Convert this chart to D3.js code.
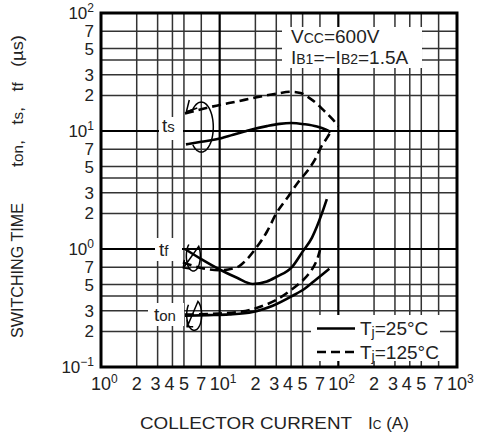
<!DOCTYPE html>
<html>
<head>
<meta charset="utf-8">
<script src="https://cdn.jsdelivr.net/npm/d3@7/dist/d3.min.js"></script>
<style>
  body { margin: 0; background: #fff; }
  text { font-family: "Liberation Sans", Arial, Helvetica, sans-serif; fill: #222; }
</style>
</head>
<body>
<svg id="chart" width="486" height="434"></svg>
<script>
// axis ticks
var xDecades = [1, 10, 100, 1000];
var xDecadeExp = ["0", "1", "2", "3"];
var yDecades = [0.1, 1, 10, 100];
var yDecadeExp = ["\u22121", "0", "1", "2"];
var gridSteps = [2, 3, 4, 5, 7];
var xMinorLabels = [2, 3, 4, 5, 7];
var yMinorLabels = [2, 3, 5, 7];

// ts  (storage time)
var ts25I  = [5.2, 7, 9.4, 13, 18, 25, 32, 40, 52, 66, 78, 86];
var ts25T  = [7.7, 8.1, 8.5, 9.3, 10.2, 11.0, 11.5, 11.7, 11.4, 10.9, 10.3, 9.8];
var ts125I = [5.1, 7, 9.4, 14, 20, 30, 40, 48, 56, 66, 76, 88, 100];
var ts125T = [14.1, 15.3, 16.4, 17.8, 19.2, 20.7, 21.5, 21.0, 19.3, 17.0, 14.8, 12.8, 11.0];
// tf  (fall time)
var tf25I  = [5.1, 7, 10, 14, 19, 25, 30, 41, 50, 60, 66, 72, 80];
var tf25T  = [1.0, 0.82, 0.67, 0.57, 0.505, 0.53, 0.58, 0.71, 0.95, 1.25, 1.55, 1.95, 2.65];
var tf125I = [4.9, 7, 10, 14, 17, 20, 25, 30, 38, 46, 55, 64, 72, 80, 86];
var tf125T = [0.77, 0.69, 0.66, 0.70, 0.82, 1.0, 1.4, 2.0, 2.8, 3.7, 4.6, 5.8, 7.4, 8.7, 9.8];
// ton (turn-on time)
var ton25I  = [5.1, 8, 12, 19, 28, 41, 52, 62, 72, 84];
var ton25T  = [0.272, 0.275, 0.279, 0.292, 0.33, 0.40, 0.46, 0.53, 0.60, 0.68];
var ton125I = [5.1, 10, 18, 25, 30, 40, 48, 56, 62, 67, 70];
var ton125T = [0.278, 0.284, 0.305, 0.34, 0.37, 0.45, 0.52, 0.61, 0.71, 0.84, 0.98];

var svg = d3.select("#chart");
var pLeft = 101, pRight = 457, pTop = 13, pBottom = 367;

var x = d3.scaleLog().domain([1, 1000]).range([pLeft, pRight]);
var y = d3.scaleLog().domain([0.1, 100]).range([pBottom, pTop]);

//grid lines
var g = svg.append("g");
var minorX = [], minorY = [];
for (var d = 0; d < 3; d++) {
    gridSteps.forEach(function (s) {
        minorX.push(s * xDecades[d]);
        minorY.push(s * yDecades[d]);
    });
}
g.selectAll(".vx").data(minorX).enter().append("line")
    .attr("x1", function (v) { return x(v); }).attr("x2", function (v) { return x(v); })
    .attr("y1", pTop).attr("y2", pBottom)
    .attr("stroke", "#333").attr("stroke-width", 1.5);
g.selectAll(".hy").data(minorY).enter().append("line")
    .attr("y1", function (v) { return y(v); }).attr("y2", function (v) { return y(v); })
    .attr("x1", pLeft).attr("x2", pRight)
    .attr("stroke", "#333").attr("stroke-width", 1.5);
g.selectAll(".vX").data(xDecades.slice(1, 3)).enter().append("line")
    .attr("x1", function (v) { return x(v); }).attr("x2", function (v) { return x(v); })
    .attr("y1", pTop).attr("y2", pBottom)
    .attr("stroke", "#000").attr("stroke-width", 2.2);
g.selectAll(".hY").data(yDecades.slice(1, 3)).enter().append("line")
    .attr("y1", function (v) { return y(v); }).attr("y2", function (v) { return y(v); })
    .attr("x1", pLeft).attr("x2", pRight)
    .attr("stroke", "#000").attr("stroke-width", 2.2);

//white boxes that hide the grid under the texts
var boxes = [
    [282, 27, 140, 41],   // conditions
    [311, 315, 129, 46],  // legend
    [159, 117, 24, 23],   // ts
    [155, 238, 27, 23],   // tf
    [148, 303, 36, 23]    // ton
];
svg.selectAll(".box").data(boxes).enter().append("rect")
    .attr("x", function (b) { return b[0]; }).attr("y", function (b) { return b[1]; })
    .attr("width", function (b) { return b[2]; }).attr("height", function (b) { return b[3]; })
    .attr("fill", "#fff");

//curves
var line = d3.line()
    .x(function (p) { return x(p[0]); })
    .y(function (p) { return y(p[1]); })
    .curve(d3.curveMonotoneX);
var series = [
    { I: ts25I, T: ts25T, dash: false },
    { I: ts125I, T: ts125T, dash: true },
    { I: tf25I, T: tf25T, dash: false },
    { I: tf125I, T: tf125T, dash: true },
    { I: ton25I, T: ton25T, dash: false },
    { I: ton125I, T: ton125T, dash: true }
];
svg.selectAll(".curve").data(series).enter().append("path")
    .attr("d", function (s) { return line(d3.zip(s.I, s.T)); })
    .attr("fill", "none").attr("stroke", "#000").attr("stroke-width", 2.6)
    .attr("stroke-dasharray", function (s) { return s.dash ? "9,5" : null; });

//loops with arrow that tie each pair of curves
function loop(ci, ct, rx, ry, a0, a1, tip, arm1, arm2) {
    var cx = x(ci), cy = y(ct), pts = [];
    for (var a = a0; a >= a1; a -= 5) {
        var r = a * Math.PI / 180;
        pts.push([cx + rx * Math.cos(r), cy + ry * Math.sin(r)]);
    }
    pts.push([cx + tip[0], cy + tip[1]]);
    svg.append("path").attr("d", d3.line()(pts))
        .attr("fill", "none").attr("stroke", "#000").attr("stroke-width", 1.5);
    svg.append("path")
        .attr("d", d3.line()([[cx + arm1[0], cy + arm1[1]], [cx + tip[0], cy + tip[1]], [cx + arm2[0], cy + arm2[1]]]))
        .attr("fill", "none").attr("stroke", "#000").attr("stroke-width", 1.5);
}
loop(7.0, 10.8, 12, 25, 135, -135, [-15, -15], [-12, -27], [-4, -19]);
loop(6.0, 0.873, 7, 15, -130, -400, [-10, 12], [-9, 4], [-3, 13]);
loop(6.1, 0.277, 7.5, 15.5, 220, -60, [-7, 12], [-7, 5], [-1, 12]);

//frame
svg.append("rect").attr("x", pLeft).attr("y", pTop)
    .attr("width", pRight - pLeft).attr("height", pBottom - pTop)
    .attr("fill", "none").attr("stroke", "#000").attr("stroke-width", 3);

//text with small / raised parts
function rich(sel, parts) {
    parts.forEach(function (p) {
        var t = sel.append("tspan").text(p[0]);
        if (p[1]) t.attr("font-size", p[1]);
        if (p[2]) t.attr("dy", p[2]);
    });
    return sel;
}

//x tick labels
var xl = svg.append("g").attr("font-size", 18);
xDecades.forEach(function (v, i) {
    rich(xl.append("text").attr("x", x(v) - 10).attr("y", 390),
        [["10"], [xDecadeExp[i], 12, -7]]);
});
for (var d = 0; d < 3; d++) {
    xMinorLabels.forEach(function (s) {
        xl.append("text").attr("x", x(s * xDecades[d]) + (s == 3 ? -2 : s == 4 ? -3 : 0)).attr("y", 390)
            .attr("text-anchor", "middle").text(s);
    });
}

//y tick labels
var yl = svg.append("g").attr("font-size", 17).attr("text-anchor", "end");
yDecades.forEach(function (v, i) {
    rich(yl.append("text").attr("x", 94).attr("y", y(v) + 6),
        [["10"], [yDecadeExp[i], 12, -7]]);
});
for (var d = 0; d < 3; d++) {
    yMinorLabels.forEach(function (s) {
        yl.append("text").attr("x", 94).attr("y", y(s * yDecades[d]) + 6).text(s);
    });
}

//axis titles
svg.append("text").attr("x", 140).attr("y", 429).attr("font-size", 17)
    .attr("textLength", 212).attr("lengthAdjust", "spacingAndGlyphs").text("COLLECTOR CURRENT");
rich(svg.append("text").attr("x", 368).attr("y", 429).attr("font-size", 17),
    [["I"], ["C", 12], [" (A)", 17]]);
svg.append("text").attr("transform", "translate(23,338)rotate(-90)").attr("font-size", 16)
    .attr("textLength", 135).attr("lengthAdjust", "spacingAndGlyphs").text("SWITCHING TIME");
var sp = "\u00a0";
rich(svg.append("text").attr("transform", "translate(23,167)rotate(-90)").attr("font-size", 17),
    [["t"], ["on", 14], ["," + sp + sp + sp + "t", 17], ["s", 14], ["," + sp + sp + sp + "t", 17],
     ["f", 14], [sp + sp + sp + "(\u00b5s)", 17]])
    .attr("textLength", 132).attr("lengthAdjust", "spacingAndGlyphs");

//curve labels
rich(svg.append("text").attr("x", 162).attr("y", y(10) + 1).attr("font-size", 19),
    [["t"], ["s", 15]]);
rich(svg.append("text").attr("x", 159).attr("y", y(1) + 7).attr("font-size", 19),
    [["t"], ["f", 15]]);
rich(svg.append("text").attr("x", 154).attr("y", y(0.3) + 10).attr("font-size", 19),
    [["t"], ["on", 15]]);

//test conditions
rich(svg.append("text").attr("x", 291).attr("y", 43).attr("font-size", 19),
    [["V"], ["CC", 14], ["=600V", 19]]);
rich(svg.append("text").attr("x", 291).attr("y", 63.5).attr("font-size", 19),
    [["I"], ["B1", 14], ["=\u2212I", 19], ["B2", 14], ["=1.5A", 19]]);

//legend
var leg = svg.append("g");
leg.append("line").attr("x1", 317).attr("x2", 355).attr("y1", 328.5).attr("y2", 328.5)
    .attr("stroke", "#000").attr("stroke-width", 2.6);
leg.append("line").attr("x1", 317).attr("x2", 355).attr("y1", 352).attr("y2", 352)
    .attr("stroke", "#000").attr("stroke-width", 2.6).attr("stroke-dasharray", "9,5");
rich(leg.append("text").attr("x", 360).attr("y", 335).attr("font-size", 19),
    [["T"], ["j", 14, 2], ["=25\u00b0C", 19, -2]]);
rich(leg.append("text").attr("x", 360).attr("y", 358.5).attr("font-size", 19),
    [["T"], ["j", 14, 2], ["=125\u00b0C", 19, -2]]);
</script>
</body>
</html>
